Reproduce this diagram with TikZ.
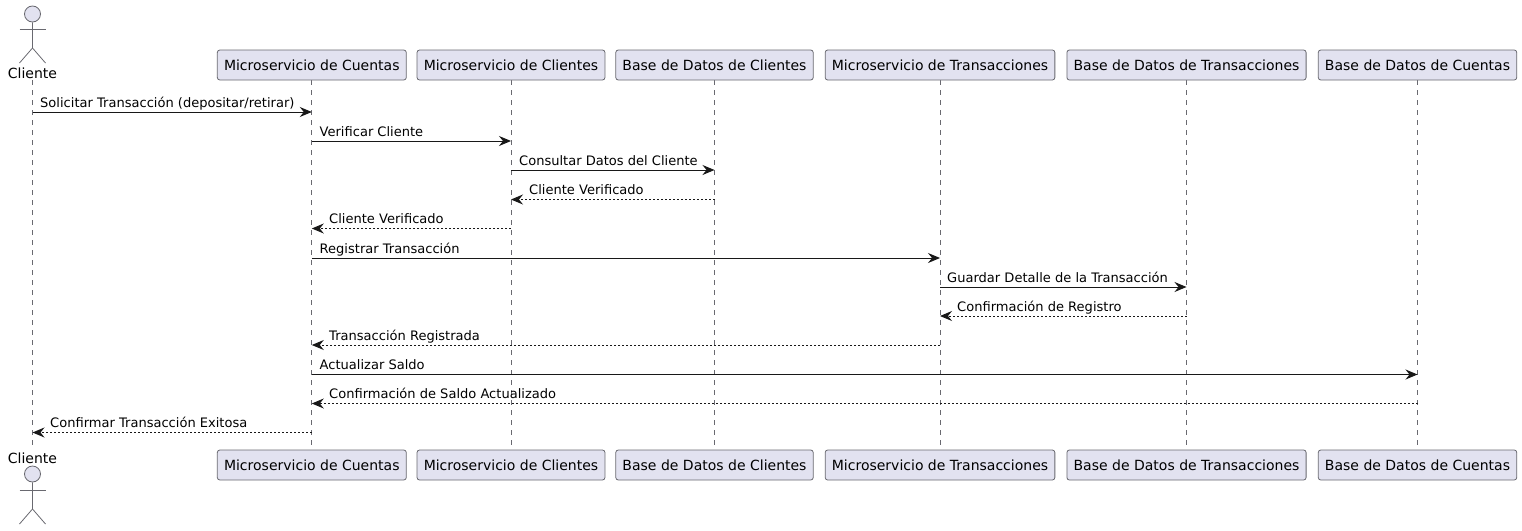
\documentclass[tikz,border=0pt]{standalone}
\usepackage{fontspec}
\setmainfont{DejaVu Sans}
\usetikzlibrary{calc}
\usetikzlibrary{arrows.meta}
\definecolor{partfill}{RGB}{226,226,240}
\definecolor{linecol}{RGB}{24,24,24}
\definecolor{thincol}{RGB}{105,105,112}
\tikzset{
  part/.style={draw=thincol, line width=0.8pt, fill=partfill, rounded corners=2.5pt, minimum height=30pt, inner xsep=6.7pt, inner ysep=0pt, font=\fontsize{14}{16}\selectfont, text=black},
  actorlab/.style={inner sep=0pt, font=\fontsize{14}{16}\selectfont, text=black},
  actorline/.style={draw=thincol, line width=0.8pt},
  actorhead/.style={actorline, fill=partfill, circle, minimum size=16pt, inner sep=0pt},
  life/.style={draw=thincol, line width=0.7pt, dash pattern=on 5pt off 5pt},
  msg/.style={draw=linecol, line width=1pt, -{Stealth[length=12pt,width=10pt,inset=4pt]}},
  reply/.style={msg, dash pattern=on 2pt off 2pt},
  msglab/.style={anchor=base west, inner sep=0pt, font=\fontsize{13.04}{15}\selectfont, text=black},
}
\begin{document}
\begin{tikzpicture}[x=1pt, y=-1pt]
        \useasboundingbox (0,0) rectangle (1522,530);

        % lifelines go under the boxes
        \coordinate (cliente) at (32.5,80);
        \coordinate (clienteend) at (32.5,449);
        \draw [life] (cliente) -- (clienteend);
        \foreach \name/\x/\lab in {mcuentas/311.8/Microservicio de Cuentas,
                                   mclientes/511/Microservicio de Clientes,
                                   bdclientes/714.5/Base de Datos de Clientes,
                                   mtrans/940/Microservicio de Transacciones,
                                   bdtrans/1186.5/Base de Datos de Transacciones,
                                   bdcuentas/1417.5/Base de Datos de Cuentas} {
            \coordinate (\name) at (\x,80);
            \coordinate (\name end) at (\x,449);
            \draw [life] (\name) -- (\name end);
            \node [part] (\name top) at (\x,65) {\lab};
            \node [part] (\name bot) at (\x,465) {\lab};
        }

        % actor, top
        \node [actorlab] (clientetop) at (32.5,73) {Cliente};
        \node [actorhead] (headtop) at (32.5,14) {};
        \draw [actorline] (headtop.south) -- (32.5,48) -- (19.5,63);
        \draw [actorline] (32.5,48) -- (45.5,63);
        \draw [actorline] (19.5,29) -- (45.5,29);

        % actor, bottom
        \node [actorlab] (clientebot) at (32.5,458) {Cliente};
        \node [actorhead] (headbot) at (32.5,474) {};
        \draw [actorline] (headbot.south) -- (32.5,509) -- (19.5,524);
        \draw [actorline] (32.5,509) -- (45.5,524);
        \draw [actorline] (19.5,490) -- (45.5,490);

        % messages
        \draw [msg] (cliente |- 0,112) -- (mcuentas |- 0,112);
        \node [msglab] (lab1) at (40,107) {Solicitar Transacción (depositar/retirar)};

        \draw [msg] (mcuentas |- 0,141) -- (mclientes |- 0,141);
        \node [msglab] (lab2) at (319.5,136) {Verificar Cliente};

        \draw [msg] (mclientes |- 0,170) -- (bdclientes |- 0,170);
        \node [msglab] (lab3) at (519,165) {Consultar Datos del Cliente};

        \draw [reply] (bdclientes |- 0,199.5) -- (mclientes |- 0,199.5);
        \node [msglab] (lab4) at (529,194.5) {Cliente Verificado};

        \draw [reply] (mclientes |- 0,228.5) -- (mcuentas |- 0,228.5);
        \node [msglab] (lab5) at (329,223.5) {Cliente Verificado};

        \draw [msg] (mcuentas |- 0,258) -- (mtrans |- 0,258);
        \node [msglab] (lab6) at (319.5,253) {Registrar Transacción};

        \draw [msg] (mtrans |- 0,287) -- (bdtrans |- 0,287);
        \node [msglab] (lab7) at (947,282) {Guardar Detalle de la Transacción};

        \draw [reply] (bdtrans |- 0,316) -- (mtrans |- 0,316);
        \node [msglab] (lab8) at (957,311) {Confirmación de Registro};

        \draw [reply] (mtrans |- 0,345) -- (mcuentas |- 0,345);
        \node [msglab] (lab9) at (329,340) {Transacción Registrada};

        \draw [msg] (mcuentas |- 0,374.5) -- (bdcuentas |- 0,374.5);
        \node [msglab] (lab10) at (319.5,369.5) {Actualizar Saldo};

        \draw [reply] (bdcuentas |- 0,403.5) -- (mcuentas |- 0,403.5);
        \node [msglab] (lab11) at (329,398.5) {Confirmación de Saldo Actualizado};

        \draw [reply] (mcuentas |- 0,432.5) -- (cliente |- 0,432.5);
        \node [msglab] (lab12) at (50,427.5) {Confirmar Transacción Exitosa};
\end{tikzpicture}
\end{document}
